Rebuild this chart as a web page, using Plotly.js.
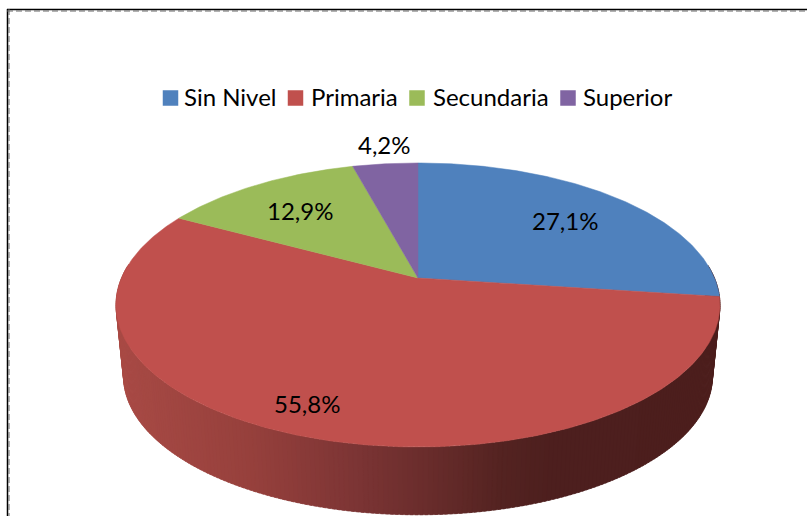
<!DOCTYPE html>
<html>
<head>
<meta charset="utf-8">
<script src="https://cdn.plot.ly/plotly-3.0.0.min.js"></script>
<style>html,body{margin:0;padding:0;background:#fff;overflow:hidden}</style>
</head>
<body>
<div id="chart" style="width:807px;height:516px"></div>
<script>
// ---- data ----
const categories = ["Sin Nivel", "Primaria", "Secundaria", "Superior"];
const values = [27.1, 55.8, 12.9, 4.2];
const valueLabels = ["27,1%", "55,8%", "12,9%", "4,2%"];

// ---- styles and layout positions ----
const colors = ["#4f81bd", "#c0504d", "#9bbb59", "#8064a2"];
const labelAnchors = [[565, 220], [307, 403], [300, 210], [384, 144]];
const legendSwatchX = [170.5, 295.5, 417, 568];
const legendTextX = [230, 354, 490.5, 627];
const LEGEND_Y = 98;
const wallStops = [[116, [168, 74, 69]], [250, [150, 64, 60]], [350, [125, 53, 53]],
                   [430, [104, 44, 43]], [500, [84, 35, 33]], [550, [77, 31, 30]], [725, [76, 30, 29]]];
const FONT = "Lato, Carlito, sans-serif";

// ---- projection of the pie plane onto the page (perspective view) ----
const apex = [418, 278], D = 296.5, A = 136.9, C = 0.19, DEPTH = 72, SHRINK = 0.975;
function project(theta, r) {
  const u = r * Math.sin(theta), v = r * Math.cos(theta), w = 1 + C * v;
  return [D * u / w, A * v / w];
}
function topPt(t) { const p = project(t, 1); return [apex[0] + p[0], apex[1] - p[1]]; }
function lowPt(t) { const p = project(t, 1); return [apex[0] + SHRINK * p[0], apex[1] + DEPTH - SHRINK * p[1]]; }
function wallColor(x) {
  let i = 0;
  while (i < wallStops.length - 2 && x > wallStops[i + 1][0]) i++;
  const a = wallStops[i], b = wallStops[i + 1];
  const f = Math.min(1, Math.max(0, (x - a[0]) / (b[0] - a[0])));
  return "rgb(" + a[1].map((c, k) => Math.round(c + (b[1][k] - c) * f)).join(",") + ")";
}

const traces = [];
const TWO_PI = 2 * Math.PI;

// side wall, drawn first, as thin strips so that it shades left to right
const STRIPS = 240;
for (let i = 0; i < STRIPS; i++) {
  const t0 = Math.PI * 0.47 + (Math.PI * 1.06) * i / STRIPS;
  const t1 = Math.PI * 0.47 + (Math.PI * 1.06) * (i + 1.6) / STRIPS;
  const a = topPt(t0), b = topPt(t1), c = lowPt(t1), d = lowPt(t0);
  const col = wallColor((a[0] + b[0]) / 2);
  traces.push({ x: [a[0], b[0], c[0], d[0], a[0]], y: [a[1], b[1], c[1], d[1], a[1]],
    mode: "lines", fill: "toself", fillcolor: col, line: { width: 0.5, color: col },
    hoverinfo: "skip", showlegend: false });
}

// top face slices
const total = values.reduce((s, v) => s + v, 0);
let cum = 0;
values.forEach((v, i) => {
  const start = cum / total * TWO_PI, end = (cum + v) / total * TWO_PI;
  const xs = [apex[0]], ys = [apex[1]];
  const n = Math.max(8, Math.ceil((end - start) * 90));
  for (let k = 0; k <= n; k++) {
    const p = topPt(start + (end - start) * k / n);
    xs.push(p[0]); ys.push(p[1]);
  }
  xs.push(apex[0]); ys.push(apex[1]);
  traces.push({ x: xs, y: ys, mode: "lines", fill: "toself", fillcolor: colors[i],
    line: { width: 0.5, color: colors[i] }, name: categories[i], hoverinfo: "name", showlegend: false });
  cum += v;
});

// legend swatches
categories.forEach((c, i) => {
  traces.push({ x: [legendSwatchX[i]], y: [LEGEND_Y], mode: "markers", name: c,
    marker: { symbol: "square", size: 15.5, color: colors[i] }, hoverinfo: "skip", showlegend: false });
});

const annotations = valueLabels.map((t, i) => ({
  x: labelAnchors[i][0], y: labelAnchors[i][1], text: t, showarrow: false,
  xanchor: "center", yanchor: "middle", font: { family: FONT, size: 24, color: "#000" }
})).concat(categories.map((c, i) => ({
  x: legendTextX[i], y: LEGEND_Y - 2, text: c, showarrow: false,
  xanchor: "center", yanchor: "middle", font: { family: FONT, size: 24, color: "#000" }
})));

const solid = { color: "#000", width: 1.5 };
const dashed = { color: "#666", width: 1, dash: "6px,3px" };
const layout = {
  width: 807, height: 516, margin: { l: 0, r: 0, t: 0, b: 0 },
  paper_bgcolor: "#fff", plot_bgcolor: "#fff",
  xaxis: { range: [0, 807], visible: false, fixedrange: true },
  yaxis: { range: [516, 0], visible: false, fixedrange: true },
  showlegend: false,
  annotations: annotations,
  shapes: [
    { type: "line", x0: 7, y0: 9.5, x1: 807, y1: 9.5, line: solid },
    { type: "line", x0: 7.5, y0: 9, x1: 7.5, y1: 516, line: solid },
    { type: "line", x0: 7, y0: 11, x1: 807, y1: 11, line: dashed },
    { type: "line", x0: 9, y0: 9, x1: 9, y1: 516, line: dashed }
  ]
};
Plotly.newPlot("chart", traces, layout, { displayModeBar: false, staticPlot: true });
</script>
</body>
</html>
